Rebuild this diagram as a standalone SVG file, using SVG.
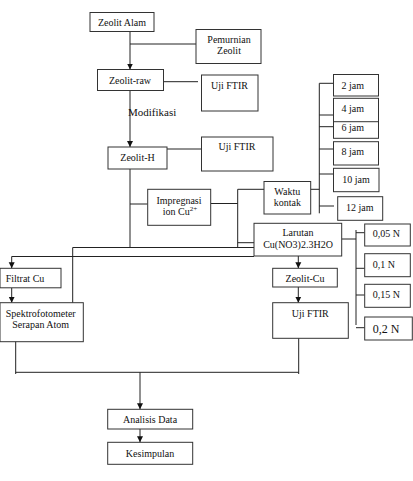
<svg xmlns="http://www.w3.org/2000/svg" width="413" height="481" viewBox="0 0 413 481">
<style>
.b{fill:#fff;stroke:#333;stroke-width:1}
text{font-family:"Liberation Serif","Times New Roman",serif;font-size:10px;fill:#111}
.c{text-anchor:middle}
.ln{fill:none;stroke:#222;stroke-width:1}
</style>
<defs>
<marker id="ar" markerUnits="userSpaceOnUse" markerWidth="7" markerHeight="7" refX="6" refY="3.5" orient="auto">
<path d="M0,0.5 L6,3.5 L0,6.5 z" fill="#111"/>
</marker>
</defs>
<rect width="413" height="481" fill="#fff"/>
<g id="connectors" class="ln">
<path d="M130,31 V69.5" marker-end="url(#ar)"/>
<path d="M130,44 H196"/>
<path d="M163,81.7 H198"/>
<path d="M130,90 V147" marker-end="url(#ar)"/>
<path d="M167,149 H201"/>
<path d="M130,169 V247.5"/>
<path d="M130,204 H147.7"/>
<path d="M210.7,203.5 H237.7"/>
<path d="M264,189.3 H237.7 V247.5"/>
<path d="M237.7,242.7 H254"/>
<path d="M72.7,306 V247.5 H254"/>
<path d="M254,256.5 H11.7 V268.3" marker-end="url(#ar)"/>
<path d="M11.7,288 V302.7" marker-end="url(#ar)"/>
<path d="M298.3,256 V268.3" marker-end="url(#ar)"/>
<path d="M298.3,287 V302.7" marker-end="url(#ar)"/>
<path d="M298.7,332.7 V374 M298.7,372.3 H15.7 M15.7,374 V337.3"/>
<path d="M140,372.3 V409.3" marker-end="url(#ar)"/>
<path d="M140,429 V442.3" marker-end="url(#ar)"/>
<path d="M310.7,189.3 H319.3 M319.3,83.3 V213.3 M319.3,83.3 H333.5 M319.3,115 H333.5 M319.3,126.7 H333.5 M319.3,149 H333.5 M319.3,174 H333.5 M319.3,206 H334"/>
<path d="M341.7,239 H356 M356,230 V325 M356,232.7 H364.7 M356,268.3 H364.7 M356,295 H364.7 M356,327.7 H364.7"/>
</g>
<g id="zeolit-alam"><rect class="b" x="90" y="12.5" width="64" height="19"/><text class="c" x="122" y="25.8">Zeolit Alam</text></g>
<g id="pemurnian"><rect class="b" x="196" y="29.5" width="65" height="34"/><text class="c" x="229" y="43">Pemurnian</text><text class="c" x="229" y="54.3">Zeolit</text></g>
<g id="zeolit-raw"><rect class="b" x="97.5" y="69.5" width="66" height="21"/><text class="c" x="130" y="83.5">Zeolit-raw</text></g>
<g id="ftir1"><rect class="b" x="201.5" y="75" width="56.5" height="36"/><text class="c" x="229.5" y="88.5">Uji FTIR</text></g>
<g id="modifikasi-label"><text x="128" y="115.5" style="font-size:11px">Modifikasi</text></g>
<g id="zeolit-h"><rect class="b" x="108" y="147" width="59" height="22"/><text class="c" x="137.5" y="160.8">Zeolit-H</text></g>
<g id="ftir2"><rect class="b" x="201.5" y="137" width="71.5" height="34"/><text class="c" x="237" y="150">Uji FTIR</text></g>
<g id="jam2"><rect class="b" x="333.5" y="74.5" width="45" height="21.5"/><text x="341.5" y="89">2 jam</text></g>
<g id="jam6"><rect class="b" x="333.5" y="115" width="45" height="23.3"/><text x="341.5" y="131">6 jam</text></g>
<g id="jam4"><rect class="b" x="333.5" y="98.3" width="45" height="23.4"/><text x="341.5" y="111.8">4 jam</text></g>
<g id="jam8"><rect class="b" x="333.5" y="141.7" width="45" height="23.3"/><text x="341.5" y="155">8 jam</text></g>
<g id="jam10"><rect class="b" x="333.5" y="168.3" width="45.5" height="23.4"/><text x="342.3" y="182.5">10 jam</text></g>
<g id="jam12"><rect class="b" x="337.7" y="196.7" width="45" height="23.6"/><text x="346" y="210.5">12 jam</text></g>
<g id="waktu"><rect class="b" x="264" y="181.5" width="46.7" height="32.5"/><text class="c" x="287.3" y="194.8">Waktu</text><text class="c" x="287.3" y="206">kontak</text></g>
<g id="impregnasi"><rect class="b" x="147.7" y="189.3" width="63" height="36"/><text class="c" x="179" y="203.5">Impregnasi</text><text x="162.7" y="215">ion Cu<tspan dy="-4" style="font-size:7px">2+</tspan></text></g>
<g id="larutan"><rect class="b" x="254" y="223.3" width="87.7" height="32.7"/><text class="c" x="298" y="235.8">Larutan</text><text class="c" x="298" y="247.8">Cu(NO3)2.3H2O</text></g>
<g id="n005"><rect class="b" x="364.7" y="224" width="45.6" height="22"/><text x="372.7" y="236.8">0,05 N</text></g>
<g id="n01"><rect class="b" x="364.7" y="253.7" width="45.6" height="23"/><text x="372.7" y="267.8">0,1 N</text></g>
<g id="n015"><rect class="b" x="364.7" y="284.3" width="45.6" height="23"/><text x="372.7" y="297.8">0,15 N</text></g>
<g id="n02"><rect class="b" x="364.7" y="317" width="47.6" height="23"/><text x="372.7" y="332.5" style="font-size:12px">0,2 N</text></g>
<g id="zeolit-cu"><rect class="b" x="272.7" y="268.3" width="64.6" height="18.7"/><text class="c" x="305" y="281.8">Zeolit-Cu</text></g>
<g id="ftir3"><rect class="b" x="272.7" y="302.7" width="75.6" height="35.6"/><text class="c" x="310.3" y="316.8">Uji FTIR</text></g>
<g id="filtrat"><rect class="b" x="0" y="268.3" width="61" height="19.5"/><text x="5.7" y="281.8">Filtrat Cu</text></g>
<g id="spektro"><rect class="b" x="0" y="302.7" width="83.3" height="39"/><text class="c" x="40.7" y="316.8">Spektrofotometer</text><text class="c" x="40.7" y="328.2">Serapan Atom</text></g>
<g id="analisis"><rect class="b" x="107.7" y="409.3" width="85" height="19.7"/><text class="c" x="150" y="422.8">Analisis Data</text></g>
<g id="kesimpulan"><rect class="b" x="107.7" y="442.3" width="85" height="22"/><text class="c" x="150" y="456.8">Kesimpulan</text></g>
</svg>
